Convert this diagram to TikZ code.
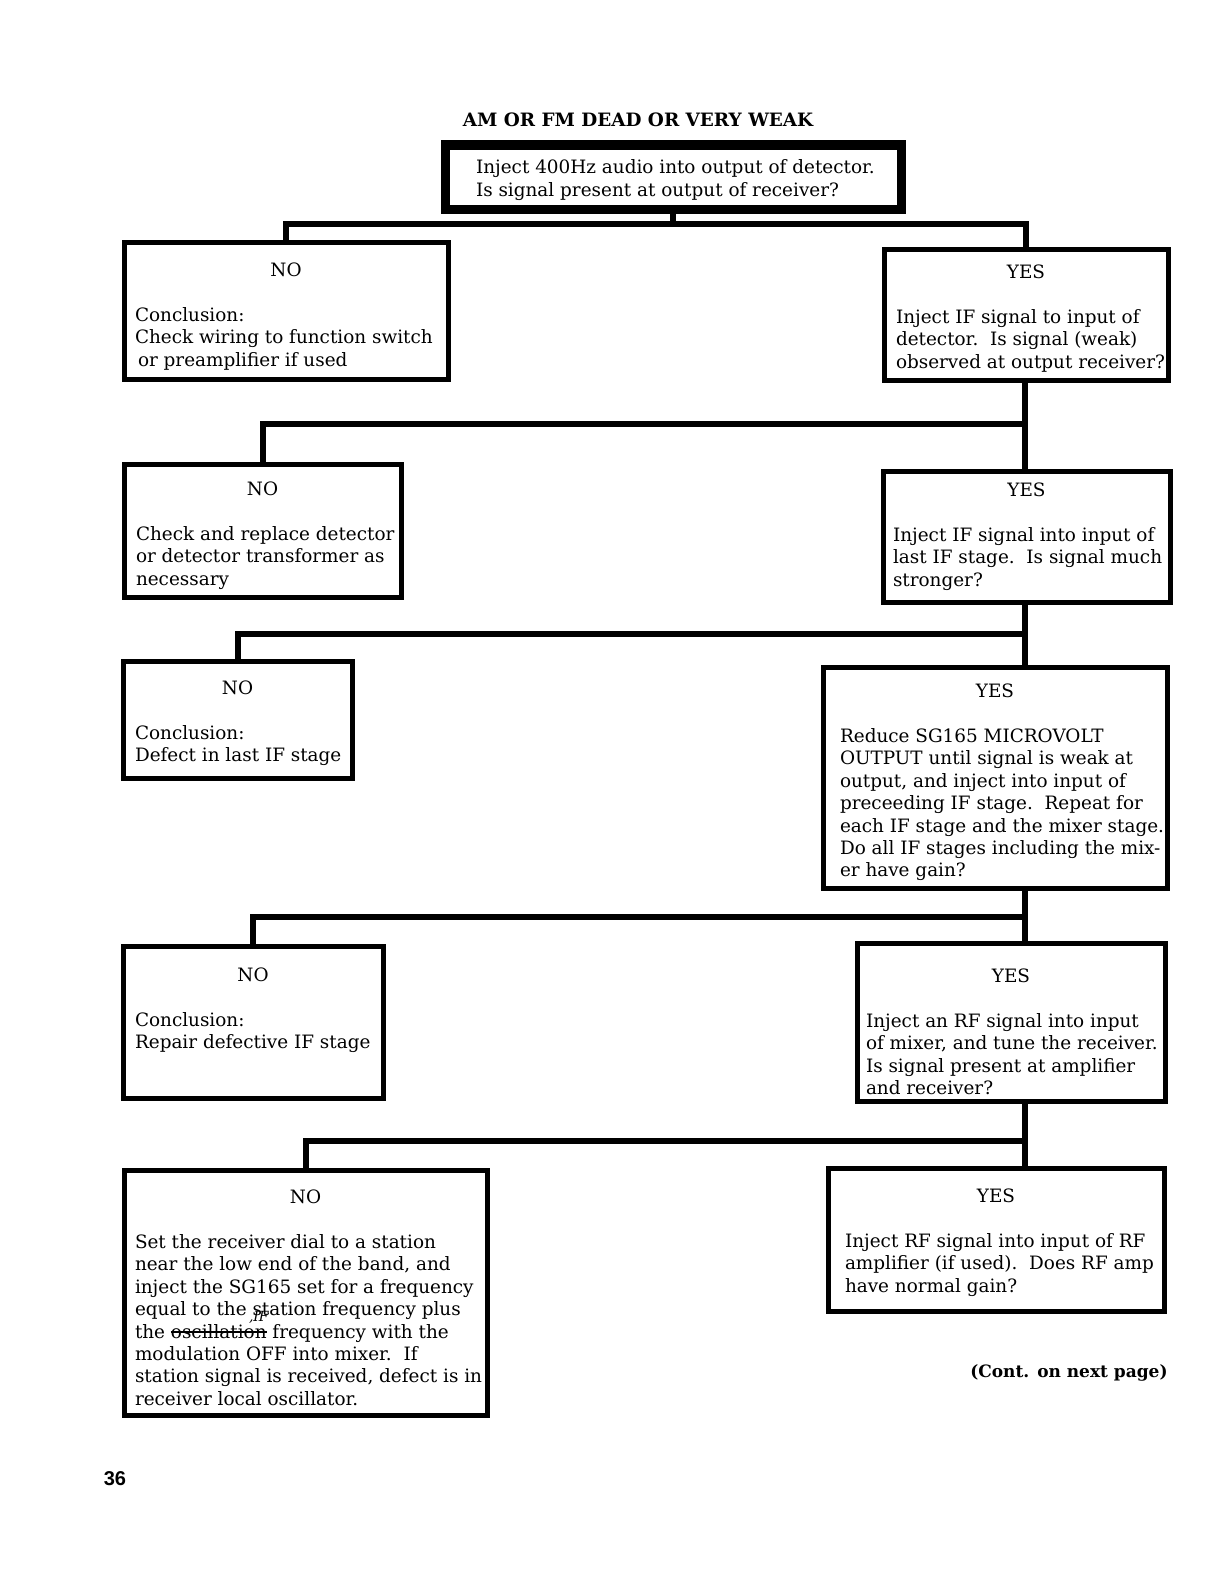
\documentclass[tikz,border=0pt]{standalone}
\usepackage{fontspec}
\setmainfont{DejaVu Serif}
\newfontfamily\pagefont{Liberation Sans}
\usepackage{tikz}
\usetikzlibrary{positioning, calc}

% crossed-out word
\newsavebox{\strikebox}
\newcommand{\struck}[1]{\sbox{\strikebox}{#1}\rlap{\usebox{\strikebox}}%
  \rule[0.25em]{\wd\strikebox}{1.3pt}}

% text of one step box: [top gap] width, height, left pad, header, body
\newcommand{\flowtext}[6][9.5pt]{%
  \parbox[c][#3][t]{#2}{\fontsize{9.2}{11.2}\selectfont
    \vspace*{#1}%
    {\leftskip=0pt plus 1fil\rightskip=0pt plus 1fil\parfillskip=0pt #5\par}%
    \vspace{11.2pt}%
    \leftskip=#4\rightskip=-14pt plus 1fil\parfillskip=0pt plus 1fil #6\par}}

\tikzset{
  stepbox/.style={draw, line width=2.5pt, inner sep=0pt, outer sep=0pt,
    anchor=north west},
  startbox/.style={stepbox, line width=4.5pt},
  link/.style={line width=3pt, line join=miter},
  headline/.style={font=\fontsize{9.2}{12}\selectfont\bfseries, inner sep=0pt}
}

\begin{document}
\begin{tikzpicture}[x=0.5pt, y=-0.5pt]
  \useasboundingbox (0,0) rectangle (1224,1584);

  \node[headline] (title) at (638,120) {AM OR FM DEAD OR VERY WEAK};

  % first test
  \node[startbox] (top) at (445,145) {\parbox[c][32pt][t]{228pt}{%
      \fontsize{9.2}{11.2}\selectfont\vspace*{7.4pt}%
      \leftskip=15.5pt\rightskip=-14pt plus 1fil\parfillskip=0pt plus 1fil
      Inject 400Hz audio into output of detector.\\
      Is signal present at output of receiver?\par}};

  % left column: NO
  \node[stepbox] (no1) at (124,242) {\flowtext[10.5pt]{162pt}{68.5pt}{5.5pt}{NO}{%
      Conclusion:\\
      Check wiring to function switch\\
      \hspace*{1.5pt}or preamplifier if used}};
  \node[stepbox] (no2) at (124,464) {\flowtext[9pt]{138.5pt}{66.5pt}{6pt}{NO}{%
      Check and replace detector\\
      or detector transformer as\\
      necessary}};
  \node[stepbox] (no3) at (123,661) {\flowtext[10pt]{114.5pt}{58.5pt}{6pt}{NO}{%
      Conclusion:\\
      Defect in last IF stage}};
  \node[stepbox] (no4) at (123,946) {\flowtext[11pt]{130pt}{76pt}{6pt}{NO}{%
      Conclusion:\\
      Repair defective IF stage}};
  \node[stepbox] (no5) at (124,1170) {\flowtext[10pt]{181.5pt}{122.5pt}{5.5pt}{NO}{%
      Set the receiver dial to a station\\
      near the low end of the band, and\\
      inject the SG165 set for a frequency\\
      equal to the\rlap{\raisebox{-3pt}{\fontsize{7}{7}\selectfont\itshape\,,IF}}
      station frequency plus\\
      the \struck{oscillation} frequency with the\\
      modulation OFF into mixer.\ \ If\\
      station signal is received, defect is in\\
      receiver local oscillator.}};

  % right column: YES
  \node[stepbox] (yes1) at (884,249) {\flowtext[8pt]{142pt}{65.5pt}{6pt}{YES}{%
      Inject IF signal to input of\\
      detector.\ \ Is signal (weak)\\
      observed at output receiver?}};
  \node[stepbox] (yes2) at (883,471) {\flowtext[6pt]{143.5pt}{65.5pt}{5pt}{YES}{%
      Inject IF signal into input of\\
      last IF stage.\ \ Is signal much\\
      stronger?}};
  \node[stepbox] (yes3) at (823,667) {\flowtext[8.5pt]{172pt}{110.5pt}{8.5pt}{YES}{%
      Reduce SG165 MICROVOLT\\
      OUTPUT until signal is weak at\\
      output, and inject into input of\\
      preceeding IF stage.\ \ Repeat for\\
      each IF stage and the mixer stage.\\
      Do all IF stages including the mix-\\
      er have gain?}};
  \node[stepbox] (yes4) at (857,943) {\flowtext[13pt]{154pt}{79pt}{4.5pt}{YES}{%
      Inject an RF signal into input\\
      of mixer, and tune the receiver.\\
      Is signal present at amplifier\\
      and receiver?}};
  \node[stepbox] (yes5) at (828,1168) {\flowtext[10.5pt]{168pt}{71.5pt}{8.5pt}{YES}{%
      Inject RF signal into input of RF\\
      amplifier (if used).\ \ Does RF amp\\
      have normal gain?}};

  % branch points
  \coordinate (bar1) at (0,224);
  \coordinate (spine) at (1025,0);
  \coordinate (j2) at (1025,424);
  \coordinate (j3) at (1025,634);
  \coordinate (j4) at (1025,917);
  \coordinate (j5) at (1025,1141);

  % connectors
  \draw[link] (top.south) -- (top.south |- bar1);
  \draw[link] (no1.north) |- (yes1.north |- bar1) -- (yes1.north);
  \draw[link] (yes1.south -| spine) -- (yes2.north -| spine);
  \draw[link] (j2) -| (no2.north);
  \draw[link] (yes2.south -| spine) -- (yes3.north -| spine);
  \draw[link] (j3) -| (no3.north);
  \draw[link] (yes3.south -| spine) -- (yes4.north -| spine);
  \draw[link] (j4) -| (no4.north);
  \draw[link] (yes4.south -| spine) -- (yes5.north -| spine);
  \draw[link] (j5) -| (no5.north);

  \node[headline, font=\fontsize{8.5}{12}\selectfont\bfseries, anchor=east]
    (cont) at (1168,1373) {(Cont. on next page)};
  \node[inner sep=0pt, font=\pagefont\fontsize{10}{12}\selectfont\bfseries]
    (page) at (115,1479) {36};
\end{tikzpicture}
\end{document}
